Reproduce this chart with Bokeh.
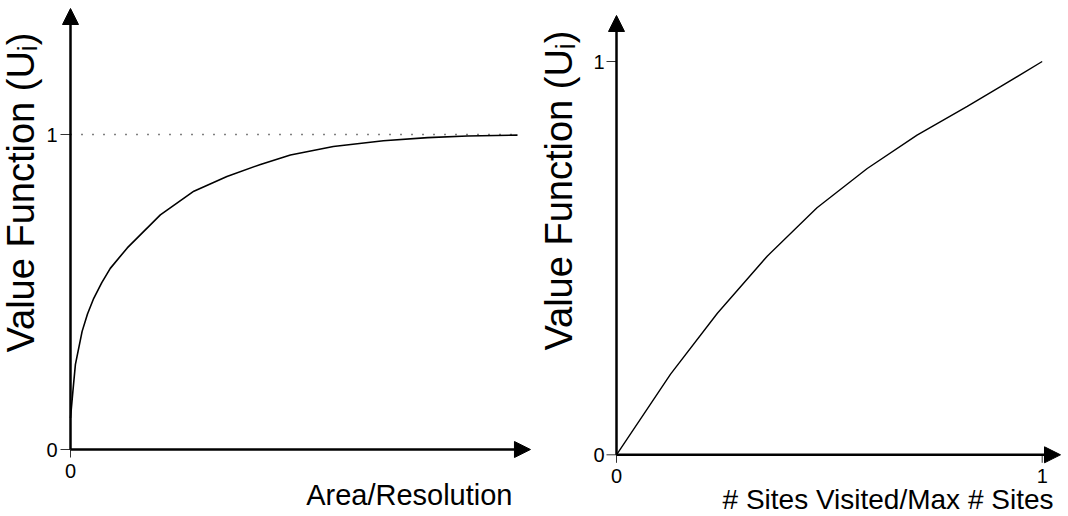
import math
from bokeh.plotting import figure
from bokeh.layouts import row
from bokeh.models import Arrow, NormalHead, Label, ColumnDataSource
from bokeh.core.properties import value
from bokeh.embed import file_html
from bokeh.resources import INLINE

# ---- data ----
area = [0.0, 0.06, 0.11, 0.26, 0.38, 0.52, 0.70, 0.89, 1.27, 2.01, 2.76, 3.5, 4.25, 4.92, 5.88, 7.0, 7.99, 8.88, 10.0]
area_value = [0.10, 0.195, 0.27, 0.375, 0.43, 0.48, 0.53, 0.575, 0.64, 0.745, 0.82, 0.867, 0.905, 0.935, 0.962, 0.98, 0.99, 0.995, 0.998]
asymptote = 1.0

sites = [0.0, 0.127, 0.237, 0.354, 0.471, 0.589, 0.706, 0.824, 0.902, 1.0]
sites_value = [0.0, 0.205, 0.36, 0.505, 0.628, 0.728, 0.813, 0.886, 0.936, 1.0]

left_xticks = [0]
left_yticks = [0, 1]
right_xticks = [0, 1]
right_yticks = [0, 1]

y_label = "Value Function (U\u1d62)"
left_xlabel = "Area/Resolution"
right_xlabel = "# Sites Visited/Max # Sites"

FONT = "Liberation Sans"


def panel(width, height, x0_px, y0_px, ppu_x, ppu_y, x_tip, y_tip, xticks, yticks,
          ytick_gap, xtick_gap):
    """Frame fills the canvas; axis origin at canvas pixel (x0_px, y0_px from top)."""
    xs, xe = -x0_px / ppu_x, (width - x0_px) / ppu_x
    ys, ye = -(height - y0_px) / ppu_y, y0_px / ppu_y
    p = figure(width=width, height=height, x_range=(xs, xe), y_range=(ys, ye),
               output_backend="svg", toolbar_location=None, title=None,
               min_border=0)
    p.axis.visible = False
    p.grid.visible = False
    p.outline_line_color = None
    dx = 1.0 / ppu_x  # one pixel in data units
    dy = 1.0 / ppu_y
    head = dict(size=16, fill_color="black", line_color="black", line_width=1)
    p.add_layout(Arrow(end=NormalHead(**head), x_start=0, y_start=0, x_end=0, y_end=y_tip,
                       line_width=2.5, line_color="black"))
    p.add_layout(Arrow(end=NormalHead(**head), x_start=0, y_start=0, x_end=x_tip, y_end=0,
                       line_width=2.5, line_color="black"))
    # ticks
    yt = ColumnDataSource(dict(y=yticks, lab=[str(t) for t in yticks]))
    xt = ColumnDataSource(dict(x=xticks, lab=[str(t) for t in xticks]))
    p.segment(x0=-10 * dx, x1=0, y0="y", y1="y", source=yt, line_color="#333333", line_width=1)
    p.segment(x0="x", x1="x", y0=-8 * dy, y1=0, source=xt, line_color="#333333", line_width=1)
    p.text(x=-ytick_gap * dx, y="y", text="lab", source=yt, text_align="right",
           text_baseline="middle", text_font=value(FONT), text_font_size="20px",
           text_color="black")
    p.text(x="x", y=-xtick_gap * dy, text="lab", source=xt, text_align="center",
           text_baseline="top", text_font=value(FONT), text_font_size="20px",
           text_color="black")
    return p


H = 515
W1 = 535
W2 = 1066 - W1

# ---- left panel ----
p1 = panel(W1, H, 70, 449, 44.7, 315.0, 10.29, 1.40, left_xticks, left_yticks, 13, 14)
p1.line([area[0], area[-1]], [asymptote, asymptote], line_color="black", line_width=1.6,
        line_dash="1 10")
p1.line(area, area_value, line_color="black", line_width=1.6)
p1.add_layout(Label(x=20, y=H - 192, x_units="screen", y_units="screen", text=y_label,
                    angle=math.pi / 2, text_align="center", text_baseline="alphabetic",
                    text_font=FONT, text_font_size="38px", text_color="black"))
p1.add_layout(Label(x=512, y=H - 494, x_units="screen", y_units="screen", text=left_xlabel,
                    text_align="right", text_baseline="alphabetic",
                    text_font=FONT, text_font_size="29px", text_color="black"))

# ---- right panel ----
p2 = panel(W2, H, 616 - W1, 454.3, 425.7, 393.3, 1.043, 1.117, right_xticks, right_yticks, 12, 14)
p2.line(sites, sites_value, line_color="black", line_width=1.4)
p2.add_layout(Label(x=23, y=H - 190, x_units="screen", y_units="screen", text=y_label,
                    angle=math.pi / 2, text_align="center", text_baseline="alphabetic",
                    text_font=FONT, text_font_size="38px", text_color="black"))
p2.add_layout(Label(x=1053 - W1, y=H - 499, x_units="screen", y_units="screen", text=right_xlabel,
                    text_align="right", text_baseline="alphabetic",
                    text_font=FONT, text_font_size="28px", text_color="black"))

layout = row(p1, p2, spacing=0)
open("out.html", "w").write(file_html(layout, INLINE))
